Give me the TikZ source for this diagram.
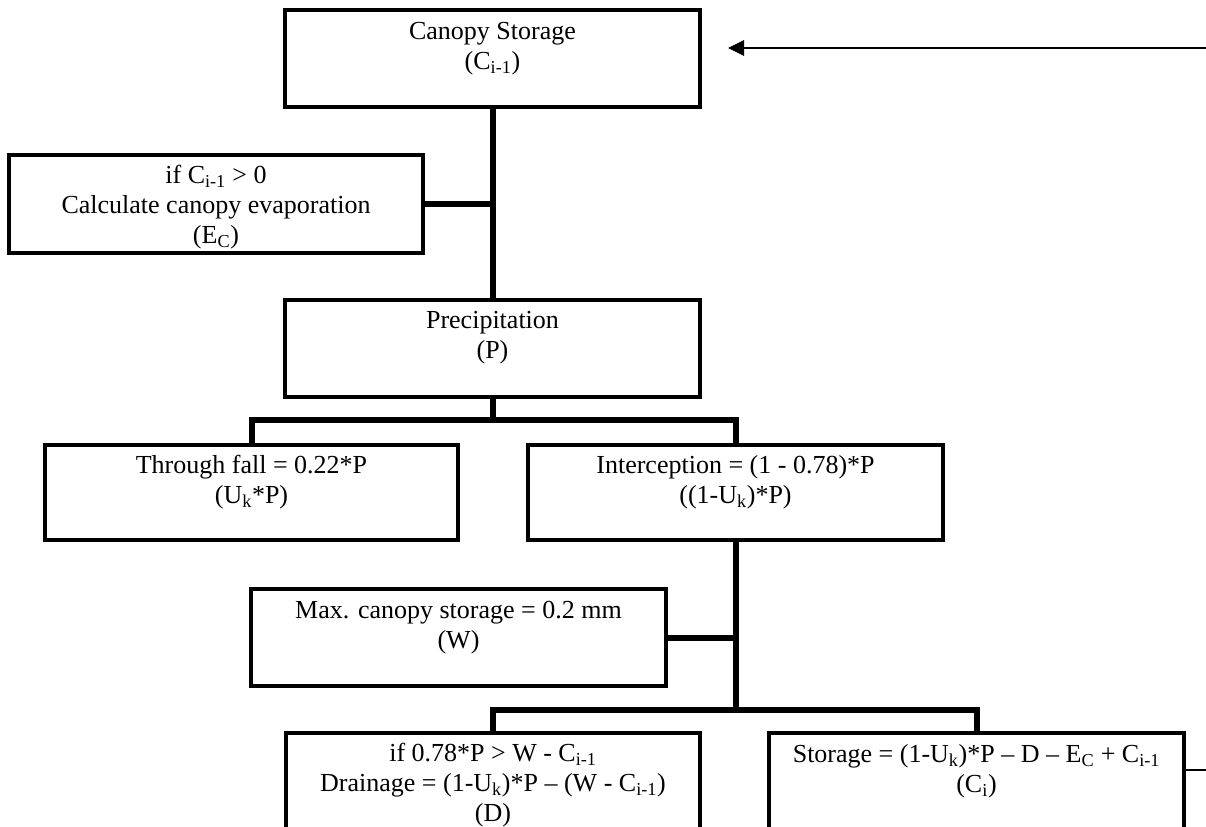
\documentclass[tikz,border=0pt]{standalone}
\usepackage{fontspec}
\setmainfont{Liberation Serif}
\usetikzlibrary{fit,arrows.meta,calc}
\begin{document}
\begin{tikzpicture}[x=0.75pt,y=-0.75pt,
  box/.style={draw, line width=2.4pt, inner sep=0pt},
  txt/.style={anchor=north, align=center, inner sep=0pt, font=\fontsize{19.5}{22.5}\selectfont},
  conn/.style={line width=4.5pt, line join=miter},
  thin/.style={line width=1.7pt}]
\useasboundingbox (0,0) rectangle (1206,827);
\fill[white] (0,0) rectangle (1206,827);
\clip (0,0) rectangle (1206,827);

% boxes
\node[box, fit={(285,10) (700,107)}] (cs) {};
\node[box, fit={(9,155) (423,253)}] (ev) {};
\node[box, fit={(285,300) (700,397)}] (pr) {};
\node[box, fit={(45,445) (458,540)}] (tf) {};
\node[box, fit={(528,445) (943,540)}] (ic) {};
\node[box, fit={(251,589) (666,686)}] (mx) {};
\node[box, fit={(286,733) (700,900)}] (dr) {};
\node[box, fit={(769,733) (1184,900)}] (st) {};

% texts
\node[txt] (cst) at ($(cs.north)+(0,10)$) {\strut Canopy Storage\\(C\textsubscript{i-1})};
\node[txt] (evt) at ($(ev.north)+(0,9)$) {\strut if C\textsubscript{i-1} > 0\\Calculate canopy evaporation\\(E\textsubscript{C})};
\node[txt] (prt) at ($(pr.north)+(0,9)$) {\strut Precipitation\\(P)};
\node[txt] (tft) at ($(tf.north)+(0,9)$) {\strut Through fall = 0.22*P\\(U\textsubscript{k}*P)};
\node[txt] (ict) at ($(ic.north)+(0,9)$) {\strut Interception = (1 - 0.78)*P\\((1-U\textsubscript{k})*P)};
\node[txt] (mxt) at ($(mx.north)+(0,10)$) {\strut Max. canopy storage = 0.2 mm\\(W)};
\node[txt] (drt) at ($(dr.north)+(0,9)$) {\strut if 0.78*P > W - C\textsubscript{i-1}\\Drainage = (1-U\textsubscript{k})*P – (W - C\textsubscript{i-1})\\(D)};
\node[txt] (stt) at ($(st.north)+(0,10)$) {\strut Storage = (1-U\textsubscript{k})*P – D – E\textsubscript{C} + C\textsubscript{i-1}\\(C\textsubscript{i})};

% coordinates
\coordinate (a1) at (1206,48);
\coordinate (a2) at (728,48);
\coordinate (b1) at (492.5,420);
\coordinate (b2) at (735.5,710);
\coordinate (sr) at (1206,770);

% connectors
\draw[thin, -{Triangle[length=12pt,width=11.5pt]}] (a1) -- (a2);
\draw[conn] (cs.south) -- (pr.north);
\draw[conn] (ev.east) -- (ev.east -| cs.south);
\draw[conn] (pr.south) -- (b1);
\draw[conn] (tf.north) -- (tf.north |- b1) -- (ic.north |- b1) -- (ic.north);
\draw[conn] (ic.south) -- (b2);
\draw[conn] (mx.east) -- (mx.east -| ic.south);
\draw[conn] (dr.north) -- (dr.north |- b2) -- (st.north |- b2) -- (st.north);
\draw[line width=2pt] (st.north east |- sr) -- (sr);
\end{tikzpicture}
\end{document}
